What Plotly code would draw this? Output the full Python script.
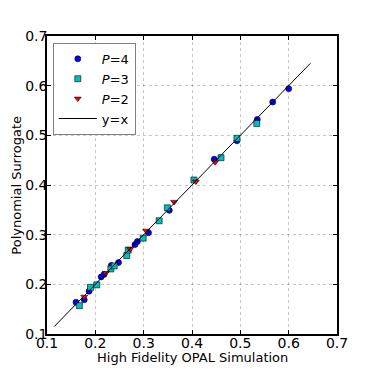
import plotly.graph_objects as go

# values
p4_x = [0.160, 0.177, 0.187, 0.212, 0.218, 0.233, 0.248, 0.282, 0.287, 0.310, 0.353, 0.446, 0.493, 0.535, 0.567, 0.600]
p4_y = [0.164, 0.169, 0.186, 0.215, 0.220, 0.238, 0.244, 0.280, 0.286, 0.304, 0.349, 0.452, 0.489, 0.532, 0.567, 0.594]

p3_x = [0.167, 0.190, 0.203, 0.232, 0.239, 0.265, 0.268, 0.299, 0.332, 0.349, 0.404, 0.460, 0.493, 0.534]
p3_y = [0.157, 0.194, 0.199, 0.231, 0.237, 0.258, 0.269, 0.293, 0.328, 0.354, 0.410, 0.455, 0.494, 0.524]

p2_x = [0.177, 0.222, 0.272, 0.305, 0.363, 0.408, 0.448]
p2_y = [0.175, 0.223, 0.271, 0.308, 0.366, 0.407, 0.446]

line_xy = [0.115, 0.645]
ticks = [0.1, 0.2, 0.3, 0.4, 0.5, 0.6, 0.7]
tick_text = ['0.1', '0.2', '0.3', '0.4', '0.5', '0.6', '0.7']

fig = go.Figure()

fig.add_trace(go.Scatter(
    x=p4_x, y=p4_y, mode='markers', name='<i>P</i>=4',
    marker=dict(symbol='circle', size=6, color='#0000ff', line=dict(color='black', width=0.6))
))
fig.add_trace(go.Scatter(
    x=p3_x, y=p3_y, mode='markers', name='<i>P</i>=3',
    marker=dict(symbol='square', size=6, color='#00bfbf', line=dict(color='black', width=0.6))
))
fig.add_trace(go.Scatter(
    x=p2_x, y=p2_y, mode='markers', name='<i>P</i>=2',
    marker=dict(symbol='triangle-down', size=6, color='#ff0000', line=dict(color='black', width=0.6))
))
fig.add_trace(go.Scatter(
    x=line_xy, y=line_xy, mode='lines', name='y=x',
    line=dict(color='black', width=1)
))

axis_style = dict(
    range=[0.1, 0.7],
    tickvals=ticks,
    ticktext=tick_text,
    ticks='inside',
    ticklen=4,
    tickcolor='black',
    showline=True,
    linecolor='black',
    linewidth=1.5,
    mirror='ticks',
    showgrid=True,
    gridcolor='rgba(0,0,0,0.22)',
    griddash='dot',
    gridwidth=1,
    zeroline=False,
    automargin=False,
    ticklabelstandoff=-5,
    tickfont=dict(size=14, color='black'),
)

# the page body adds an 8px offset, so margins are trimmed on the left/top
fig.update_layout(
    width=374,
    height=374,
    margin=dict(l=39, r=45, t=28, b=48),
    plot_bgcolor='white',
    paper_bgcolor='white',
    font=dict(family='DejaVu Sans', color='black', size=13),
    showlegend=True,
    legend=dict(
        x=0.02, y=0.977, xanchor='left', yanchor='top',
        bgcolor='white', bordercolor='#808080', borderwidth=1,
        font=dict(size=13),
        tracegroupgap=0,
        itemwidth=38,
    ),
    xaxis=axis_style,
    yaxis=axis_style,
)

# axis titles as annotations so they sit where the reference has them
fig.add_annotation(
    text='High Fidelity OPAL Simulation', xref='paper', yref='paper',
    x=0.5, y=-0.08, xanchor='center', yanchor='middle',
    showarrow=False, font=dict(size=13, color='black')
)
fig.add_annotation(
    text='Polynomial Surrogate', xref='paper', yref='paper',
    x=-0.108, y=0.5, xanchor='center', yanchor='middle', textangle=-90,
    showarrow=False, font=dict(size=13, color='black')
)

fig.write_html("out.html")
